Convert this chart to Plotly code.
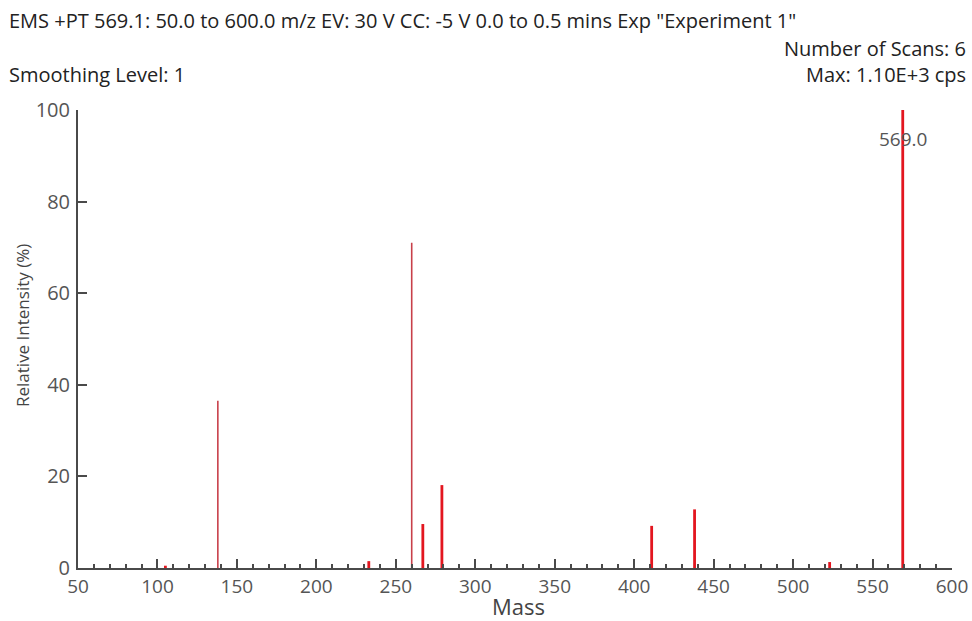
import plotly.graph_objects as go

# Peak list (m/z, relative intensity %)
sharp_mass = [138, 260]
sharp_intensity = [36.5, 71.0]
peak_mass = [105, 233, 267, 279, 411, 438, 523, 569]
peak_intensity = [0.5, 1.5, 9.6, 18.1, 9.2, 12.8, 1.3, 100.0]

x_ticks = [50, 100, 150, 200, 250, 300, 350, 400, 450, 500, 550, 600]
y_ticks = [0, 20, 40, 60, 80, 100]

base_peak_label = "569.0"
header_line = 'EMS +PT 569.1: 50.0 to 600.0 m/z EV: 30 V CC: -5 V 0.0 to 0.5 mins Exp "Experiment 1"'
scans_text = "Number of Scans: 6"
smoothing_text = "Smoothing Level: 1"
max_text = "Max: 1.10E+3 cps"

W, H = 972, 621
L, R, T, B = 78, 20, 110, 53


def stems(xs, ys):
    sx, sy = [], []
    for m, v in zip(xs, ys):
        sx += [m, m, None]
        sy += [0, v, None]
    return sx, sy


fig = go.Figure()
sx, sy = stems(sharp_mass, sharp_intensity)
fig.add_trace(go.Scatter(x=sx, y=sy, mode="lines",
                         line=dict(color="#c8404a", width=1.6),
                         hoverinfo="skip", showlegend=False))
sx, sy = stems(peak_mass, peak_intensity)
fig.add_trace(go.Scatter(x=sx, y=sy, mode="lines",
                         line=dict(color="#e3161f", width=2.8),
                         hoverinfo="skip", showlegend=False))

font_family = "Open Sans, Noto Sans, DejaVu Sans, sans-serif"
axis_color = "#4a4a4a"

fig.update_layout(
    width=W, height=H,
    margin=dict(l=L, r=R, t=T, b=B, autoexpand=False),
    paper_bgcolor="white", plot_bgcolor="white",
    font=dict(family=font_family, color="#333333"),
    xaxis=dict(
        range=[50, 600], tickvals=x_ticks, ticktext=[str(v) for v in x_ticks],
        automargin=False,
        showgrid=False, zeroline=False,
        showline=True, linecolor=axis_color, linewidth=2,
        ticks="inside", ticklen=9, tickwidth=2, tickcolor=axis_color,
        minor=dict(dtick=10, ticks="inside", ticklen=4, tickwidth=2, tickcolor=axis_color),
        tickfont=dict(size=19, color="#555555", family=font_family),
        ticklabelstandoff=0,
    ),
    yaxis=dict(
        range=[0, 100], tickvals=y_ticks, ticktext=[str(v) for v in y_ticks],
        automargin=False,
        showgrid=False, zeroline=False,
        showline=True, linecolor=axis_color, linewidth=2,
        ticks="inside", ticklen=9, tickwidth=2, tickcolor=axis_color,
        tickfont=dict(size=20, color="#555555", family=font_family),
        ticklabelstandoff=2,
    ),
)

ann = [
    dict(text=header_line, x=8, y=20, xanchor="left", yanchor="middle",
         font=dict(size=20, color="#222222")),
    dict(text=scans_text, x=967, y=49, xanchor="right", yanchor="middle",
         font=dict(size=20, color="#222222")),
    dict(text=smoothing_text, x=8, y=74, xanchor="left", yanchor="middle",
         font=dict(size=20, color="#222222")),
    dict(text=max_text, x=967, y=74, xanchor="right", yanchor="middle",
         font=dict(size=20, color="#222222")),
    dict(text="Mass", x=518, y=606, xanchor="center", yanchor="middle",
         font=dict(size=22, color="#444444")),
    dict(text="Relative Intensity (%)", x=22, y=326, xanchor="center", yanchor="middle",
         textangle=-90, font=dict(size=17, color="#444444")),
]
for a in ann:
    fig.add_annotation(
        text=a["text"], xref="paper", yref="paper",
        x=(a["x"] - L) / (W - L - R),
        y=(H - B - a["y"]) / (H - T - B),
        xanchor=a["xanchor"], yanchor=a["yanchor"],
        textangle=a.get("textangle", 0), borderpad=0,
        showarrow=False, font=dict(family=font_family, **a["font"]),
    )

fig.add_annotation(text=base_peak_label, x=peak_mass[-1], y=93.7, xref="x", yref="y",
                   showarrow=False, xanchor="center", yanchor="middle",
                   font=dict(family=font_family, size=19, color="#555555"))

fig.write_html("out.html", config={"displayModeBar": False},
               post_script="document.body.style.margin='0';")
